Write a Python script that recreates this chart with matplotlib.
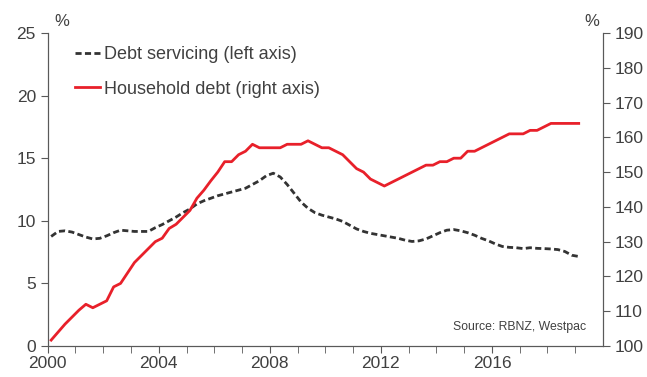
import matplotlib
matplotlib.use("Agg")
import matplotlib.pyplot as plt
import numpy as np

plt.rcParams['font.family'] = ['Liberation Sans', 'DejaVu Sans']

# quarterly, first quarter of 2000 to first quarter of 2019
quarters = 2000.125 + 0.25 * np.arange(77)

# debt servicing, % of income (left axis)
debt_servicing = [
    8.75, 9.15, 9.2, 9.1, 8.9, 8.7, 8.55, 8.6,
    8.8, 9.05, 9.25, 9.2, 9.15, 9.15, 9.15, 9.45,
    9.7, 10.0, 10.3, 10.65, 10.95, 11.35, 11.6, 11.8,
    12.0, 12.15, 12.3, 12.45, 12.6, 12.9, 13.2, 13.6,
    13.8, 13.5, 12.9, 12.2, 11.5, 11.0, 10.65, 10.45,
    10.3, 10.15, 9.95, 9.65, 9.35, 9.15, 9.0, 8.9,
    8.8, 8.7, 8.6, 8.45, 8.35, 8.4, 8.55, 8.8,
    9.05, 9.25, 9.3, 9.2, 9.05, 8.85, 8.6, 8.4,
    8.15, 7.95, 7.88, 7.85, 7.78, 7.85, 7.8, 7.78,
    7.75, 7.7, 7.55, 7.25, 7.15,
]

# household debt, % of income (right axis)
household_debt = [
    101.7, 104.0, 106.3, 108.3, 110.3, 112.0, 111.0, 112.0,
    113.0, 117.0, 118.0, 121.0, 124.0, 126.0, 128.0, 130.0,
    131.0, 133.8, 135.0, 137.0, 139.0, 142.5, 144.8, 147.5,
    150.0, 153.0, 153.0, 155.0, 156.0, 158.0, 157.0, 157.0,
    157.0, 157.0, 158.0, 158.0, 158.0, 159.0, 158.0, 157.0,
    157.0, 156.0, 155.0, 153.0, 151.0, 150.0, 148.0, 147.0,
    146.0, 147.0, 148.0, 149.0, 150.0, 151.0, 152.0, 152.0,
    153.0, 153.0, 154.0, 154.0, 156.0, 156.0, 157.0, 158.0,
    159.0, 160.0, 161.0, 161.0, 161.0, 162.0, 162.0, 163.0,
    164.0, 164.0, 164.0, 164.0, 164.0,
]

year_ticks = [2000, 2004, 2008, 2012, 2016]

axis_col = '#595959'
text_col = '#404040'

fig = plt.figure(figsize=(6.47, 3.77), dpi=100)
ax = fig.add_axes([0.0737, 0.0822, 0.8583, 0.8303])
ax2 = ax.twinx()

ax.plot(quarters, debt_servicing, color='#333333', lw=2.0, ls=(0, (2.2, 1.2)),
        label='Debt servicing (left axis)')
ax2.plot(quarters, household_debt, color='#e8202a', lw=2.0,
         label='Household debt (right axis)')

ax.set_xlim(2000, 2020)
ax.set_ylim(0, 25)
ax2.set_ylim(100, 190)
ax.set_xticks(year_ticks)
ax.set_xticks(range(2000, 2020), minor=True)
ax.set_yticks(range(0, 26, 5))
ax2.set_yticks(range(100, 191, 10))

for a in (ax, ax2):
    a.spines['top'].set_visible(False)
    for s in ('left', 'right', 'bottom'):
        a.spines[s].set_color(axis_col)
    a.tick_params(colors=axis_col, labelcolor=text_col, labelsize=12.5,
                  length=5, direction='out')
    a.tick_params(which='minor', colors=axis_col, length=5)
ax.tick_params(axis='x', pad=2)

fig.text(0.096, 0.942, '%', fontsize=12, color=text_col, ha='center', va='center')
fig.text(0.914, 0.942, '%', fontsize=12, color=text_col, ha='center', va='center')

h1, l1 = ax.get_legend_handles_labels()
h2, l2 = ax2.get_legend_handles_labels()
leg = ax.legend(h1 + h2, l1 + l2, loc='upper left', bbox_to_anchor=(0.049, 0.957),
                frameon=False, fontsize=13, handlelength=1.4, handletextpad=0.21,
                labelspacing=0.95, borderpad=0, borderaxespad=0, labelcolor=text_col)

ax.text(0.969, 0.042, 'Source: RBNZ, Westpac', transform=ax.transAxes,
        fontsize=8.8, color=text_col, ha='right', va='bottom')

fig.savefig('out.png', dpi=100)
